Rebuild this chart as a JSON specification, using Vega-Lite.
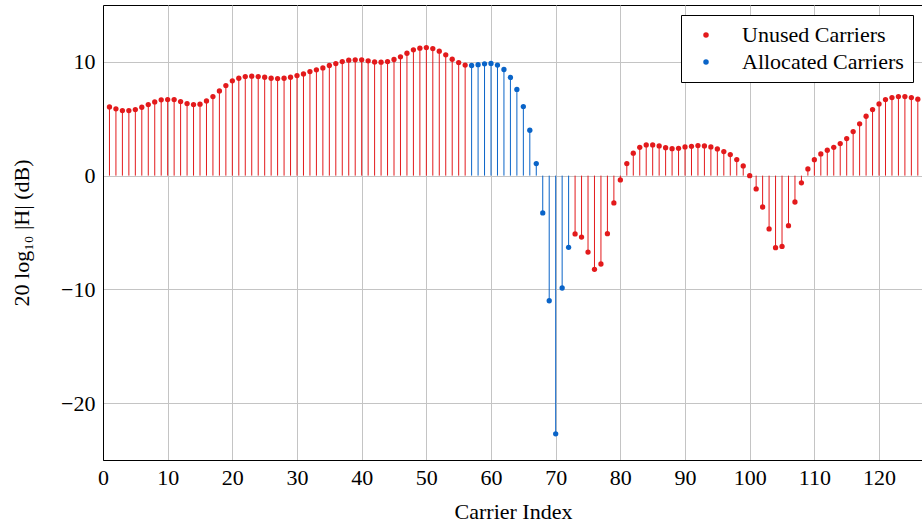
{
  "$schema": "https://vega.github.io/schema/vega-lite/v6.json",
  "width": 820,
  "height": 455,
  "autosize": {"type": "none"},
  "padding": {"left": 103, "top": 5, "right": 0, "bottom": 64},
  "background": "white",
  "config": {
    "font": "Liberation Serif",
    "view": {"stroke": "black", "strokeWidth": 1},
    "axis": {
      "gridColor": "#c4c4c4",
      "gridWidth": 1,
      "domainColor": "black",
      "domainWidth": 1,
      "labelFont": "Liberation Serif",
      "labelFontSize": 22,
      "labelColor": "black",
      "labelFlush": false,
      "titleFont": "Liberation Serif",
      "titleFontSize": 22,
      "titleFontWeight": "normal",
      "titleColor": "black",
      "ticks": false
    },
    "legend": {
      "title": null,
      "orient": "top-right",
      "offset": 10,
      "strokeColor": "black",
      "fillColor": "white",
      "padding": 9,
      "labelFont": "Liberation Serif",
      "labelFontSize": 22,
      "labelColor": "black",
      "labelLimit": 400,
      "symbolSize": 30,
      "symbolOffset": 5,
      "labelOffset": 25,
      "rowPadding": 5,
      "symbolType": "circle",
      "symbolStrokeWidth": 0
    }
  },
  "data": {
    "values": [
      {"carrier": 1, "db": 6.04, "type": "Unused Carriers"},
      {"carrier": 2, "db": 5.87, "type": "Unused Carriers"},
      {"carrier": 3, "db": 5.72, "type": "Unused Carriers"},
      {"carrier": 4, "db": 5.72, "type": "Unused Carriers"},
      {"carrier": 5, "db": 5.81, "type": "Unused Carriers"},
      {"carrier": 6, "db": 6.01, "type": "Unused Carriers"},
      {"carrier": 7, "db": 6.25, "type": "Unused Carriers"},
      {"carrier": 8, "db": 6.48, "type": "Unused Carriers"},
      {"carrier": 9, "db": 6.66, "type": "Unused Carriers"},
      {"carrier": 10, "db": 6.69, "type": "Unused Carriers"},
      {"carrier": 11, "db": 6.69, "type": "Unused Carriers"},
      {"carrier": 12, "db": 6.51, "type": "Unused Carriers"},
      {"carrier": 13, "db": 6.33, "type": "Unused Carriers"},
      {"carrier": 14, "db": 6.25, "type": "Unused Carriers"},
      {"carrier": 15, "db": 6.28, "type": "Unused Carriers"},
      {"carrier": 16, "db": 6.57, "type": "Unused Carriers"},
      {"carrier": 17, "db": 6.95, "type": "Unused Carriers"},
      {"carrier": 18, "db": 7.45, "type": "Unused Carriers"},
      {"carrier": 19, "db": 7.92, "type": "Unused Carriers"},
      {"carrier": 20, "db": 8.33, "type": "Unused Carriers"},
      {"carrier": 21, "db": 8.56, "type": "Unused Carriers"},
      {"carrier": 22, "db": 8.71, "type": "Unused Carriers"},
      {"carrier": 23, "db": 8.74, "type": "Unused Carriers"},
      {"carrier": 24, "db": 8.71, "type": "Unused Carriers"},
      {"carrier": 25, "db": 8.65, "type": "Unused Carriers"},
      {"carrier": 26, "db": 8.56, "type": "Unused Carriers"},
      {"carrier": 27, "db": 8.53, "type": "Unused Carriers"},
      {"carrier": 28, "db": 8.56, "type": "Unused Carriers"},
      {"carrier": 29, "db": 8.65, "type": "Unused Carriers"},
      {"carrier": 30, "db": 8.8, "type": "Unused Carriers"},
      {"carrier": 31, "db": 8.94, "type": "Unused Carriers"},
      {"carrier": 32, "db": 9.15, "type": "Unused Carriers"},
      {"carrier": 33, "db": 9.3, "type": "Unused Carriers"},
      {"carrier": 34, "db": 9.47, "type": "Unused Carriers"},
      {"carrier": 35, "db": 9.68, "type": "Unused Carriers"},
      {"carrier": 36, "db": 9.85, "type": "Unused Carriers"},
      {"carrier": 37, "db": 10.03, "type": "Unused Carriers"},
      {"carrier": 38, "db": 10.15, "type": "Unused Carriers"},
      {"carrier": 39, "db": 10.18, "type": "Unused Carriers"},
      {"carrier": 40, "db": 10.18, "type": "Unused Carriers"},
      {"carrier": 41, "db": 10.09, "type": "Unused Carriers"},
      {"carrier": 42, "db": 10.0, "type": "Unused Carriers"},
      {"carrier": 43, "db": 9.97, "type": "Unused Carriers"},
      {"carrier": 44, "db": 10.03, "type": "Unused Carriers"},
      {"carrier": 45, "db": 10.21, "type": "Unused Carriers"},
      {"carrier": 46, "db": 10.44, "type": "Unused Carriers"},
      {"carrier": 47, "db": 10.76, "type": "Unused Carriers"},
      {"carrier": 48, "db": 11.06, "type": "Unused Carriers"},
      {"carrier": 49, "db": 11.2, "type": "Unused Carriers"},
      {"carrier": 50, "db": 11.26, "type": "Unused Carriers"},
      {"carrier": 51, "db": 11.17, "type": "Unused Carriers"},
      {"carrier": 52, "db": 10.94, "type": "Unused Carriers"},
      {"carrier": 53, "db": 10.62, "type": "Unused Carriers"},
      {"carrier": 54, "db": 10.23, "type": "Unused Carriers"},
      {"carrier": 55, "db": 9.94, "type": "Unused Carriers"},
      {"carrier": 56, "db": 9.72, "type": "Unused Carriers"},
      {"carrier": 57, "db": 9.68, "type": "Allocated Carriers"},
      {"carrier": 58, "db": 9.75, "type": "Allocated Carriers"},
      {"carrier": 59, "db": 9.83, "type": "Allocated Carriers"},
      {"carrier": 60, "db": 9.86, "type": "Allocated Carriers"},
      {"carrier": 61, "db": 9.72, "type": "Allocated Carriers"},
      {"carrier": 62, "db": 9.33, "type": "Allocated Carriers"},
      {"carrier": 63, "db": 8.63, "type": "Allocated Carriers"},
      {"carrier": 64, "db": 7.58, "type": "Allocated Carriers"},
      {"carrier": 65, "db": 6.07, "type": "Allocated Carriers"},
      {"carrier": 66, "db": 3.99, "type": "Allocated Carriers"},
      {"carrier": 67, "db": 1.06, "type": "Allocated Carriers"},
      {"carrier": 68, "db": -3.28, "type": "Allocated Carriers"},
      {"carrier": 69, "db": -11.0, "type": "Allocated Carriers"},
      {"carrier": 70, "db": -22.7, "type": "Allocated Carriers"},
      {"carrier": 71, "db": -9.88, "type": "Allocated Carriers"},
      {"carrier": 72, "db": -6.3, "type": "Allocated Carriers"},
      {"carrier": 73, "db": -5.13, "type": "Unused Carriers"},
      {"carrier": 74, "db": -5.4, "type": "Unused Carriers"},
      {"carrier": 75, "db": -6.72, "type": "Unused Carriers"},
      {"carrier": 76, "db": -8.24, "type": "Unused Carriers"},
      {"carrier": 77, "db": -7.77, "type": "Unused Carriers"},
      {"carrier": 78, "db": -5.1, "type": "Unused Carriers"},
      {"carrier": 79, "db": -2.4, "type": "Unused Carriers"},
      {"carrier": 80, "db": -0.38, "type": "Unused Carriers"},
      {"carrier": 81, "db": 1.06, "type": "Unused Carriers"},
      {"carrier": 82, "db": 1.97, "type": "Unused Carriers"},
      {"carrier": 83, "db": 2.49, "type": "Unused Carriers"},
      {"carrier": 84, "db": 2.7, "type": "Unused Carriers"},
      {"carrier": 85, "db": 2.7, "type": "Unused Carriers"},
      {"carrier": 86, "db": 2.61, "type": "Unused Carriers"},
      {"carrier": 87, "db": 2.46, "type": "Unused Carriers"},
      {"carrier": 88, "db": 2.37, "type": "Unused Carriers"},
      {"carrier": 89, "db": 2.4, "type": "Unused Carriers"},
      {"carrier": 90, "db": 2.52, "type": "Unused Carriers"},
      {"carrier": 91, "db": 2.58, "type": "Unused Carriers"},
      {"carrier": 92, "db": 2.64, "type": "Unused Carriers"},
      {"carrier": 93, "db": 2.61, "type": "Unused Carriers"},
      {"carrier": 94, "db": 2.52, "type": "Unused Carriers"},
      {"carrier": 95, "db": 2.35, "type": "Unused Carriers"},
      {"carrier": 96, "db": 2.11, "type": "Unused Carriers"},
      {"carrier": 97, "db": 1.85, "type": "Unused Carriers"},
      {"carrier": 98, "db": 1.41, "type": "Unused Carriers"},
      {"carrier": 99, "db": 0.85, "type": "Unused Carriers"},
      {"carrier": 100, "db": 0.0, "type": "Unused Carriers"},
      {"carrier": 101, "db": -1.17, "type": "Unused Carriers"},
      {"carrier": 102, "db": -2.76, "type": "Unused Carriers"},
      {"carrier": 103, "db": -4.69, "type": "Unused Carriers"},
      {"carrier": 104, "db": -6.33, "type": "Unused Carriers"},
      {"carrier": 105, "db": -6.22, "type": "Unused Carriers"},
      {"carrier": 106, "db": -4.4, "type": "Unused Carriers"},
      {"carrier": 107, "db": -2.32, "type": "Unused Carriers"},
      {"carrier": 108, "db": -0.63, "type": "Unused Carriers"},
      {"carrier": 109, "db": 0.59, "type": "Unused Carriers"},
      {"carrier": 110, "db": 1.4, "type": "Unused Carriers"},
      {"carrier": 111, "db": 1.91, "type": "Unused Carriers"},
      {"carrier": 112, "db": 2.23, "type": "Unused Carriers"},
      {"carrier": 113, "db": 2.49, "type": "Unused Carriers"},
      {"carrier": 114, "db": 2.82, "type": "Unused Carriers"},
      {"carrier": 115, "db": 3.26, "type": "Unused Carriers"},
      {"carrier": 116, "db": 3.87, "type": "Unused Carriers"},
      {"carrier": 117, "db": 4.55, "type": "Unused Carriers"},
      {"carrier": 118, "db": 5.22, "type": "Unused Carriers"},
      {"carrier": 119, "db": 5.81, "type": "Unused Carriers"},
      {"carrier": 120, "db": 6.3, "type": "Unused Carriers"},
      {"carrier": 121, "db": 6.69, "type": "Unused Carriers"},
      {"carrier": 122, "db": 6.86, "type": "Unused Carriers"},
      {"carrier": 123, "db": 6.95, "type": "Unused Carriers"},
      {"carrier": 124, "db": 6.95, "type": "Unused Carriers"},
      {"carrier": 125, "db": 6.86, "type": "Unused Carriers"},
      {"carrier": 126, "db": 6.72, "type": "Unused Carriers"}
    ]
  },
  "encoding": {
    "x": {
      "field": "carrier",
      "type": "quantitative",
      "scale": {"domain": [0, 126.8], "nice": false, "zero": false},
      "axis": {
        "values": [0, 10, 20, 30, 40, 50, 60, 70, 80, 90, 100, 110, 120],
        "title": "Carrier Index",
        "labelPadding": 7,
        "titlePadding": 13
      }
    },
    "y": {
      "field": "db",
      "type": "quantitative",
      "scale": {"domain": [-25, 15], "nice": false},
      "axis": {
        "values": [-20, -10, 0, 10],
        "title": "20 log₁₀ |H| (dB)",
        "labelPadding": 8,
        "titlePadding": 27
      }
    },
    "color": {
      "field": "type",
      "type": "nominal",
      "scale": {
        "domain": ["Unused Carriers", "Allocated Carriers"],
        "range": ["#e31a1c", "#0a64c8"]
      }
    }
  },
  "layer": [
    {
      "mark": {"type": "point", "filled": true, "size": 28, "opacity": 1}
    },
    {
      "mark": {"type": "rule", "strokeWidth": 1},
      "encoding": {
        "y2": {"datum": 0}
      }
    }
  ]
}
